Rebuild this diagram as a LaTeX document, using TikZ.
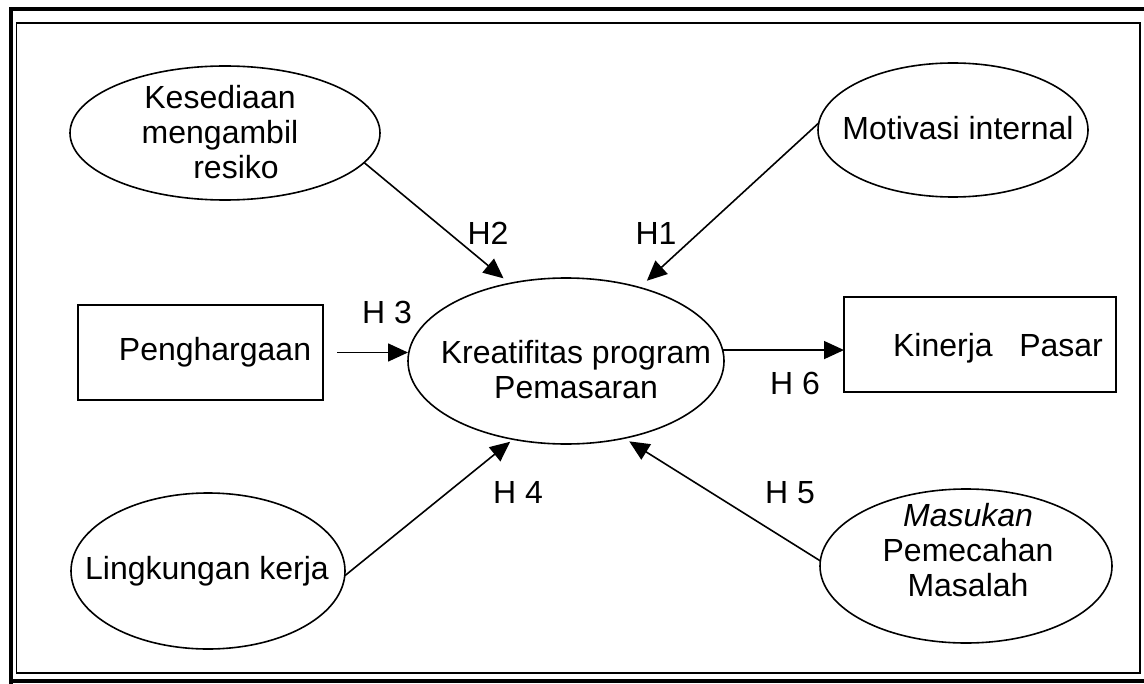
\documentclass[tikz,border=0pt]{standalone}
\usepackage{fontspec}
\setmainfont{Liberation Sans}
\usetikzlibrary{arrows.meta,shapes.geometric,positioning}

\begin{document}
\begin{tikzpicture}[x=0.5pt,y=-0.5pt,
		oval/.style={draw, ellipse, inner sep=0pt, outer sep=0pt, line width=0.8pt},
		kotak/.style={draw, rectangle, inner sep=0pt, outer sep=0pt, line width=0.8pt},
		teks/.style={align=center, inner sep=0pt, font=\fontsize{16}{17.5}\selectfont},
		panah/.style={-{Triangle[length=10pt,width=9pt]}, line width=0.8pt}]
		
			\useasboundingbox (0,0) rectangle (1144,684);
			\fill[white] (0,0) rectangle (1144,684);
			
			% bingkai
			\draw[line width=2pt] (11,684) -- (11,9.5) -- (1144,9.5);
			\draw[line width=2pt] (11,681) -- (1144,681);
			\draw[line width=0.8pt] (16.5,23) rectangle (1140,673);
			
			\node[oval, minimum width=155pt, minimum height=67pt] (resiko) at (225,133) {};
			\node[oval, minimum width=135pt, minimum height=67pt] (motivasi) at (953,130) {};
			\node[oval, minimum width=158pt, minimum height=83pt] (kreatif) at (566,361) {};
			\node[oval, minimum width=137pt, minimum height=78pt] (lingkungan) at (208,571) {};
			\node[oval, minimum width=146pt, minimum height=77pt] (masukan) at (966,566) {};
			\node[kotak, minimum width=122.5pt, minimum height=47.5pt] (harga) at (200.5,352.5) {};
			\node[kotak, minimum width=136pt, minimum height=47.5pt] (kinerja) at (980,344.5) {};
			
			\node[teks] (resikoteks) at (220,132) {Kesediaan\\mengambil\\\hspace*{1em}resiko};
			\node[teks] (motivasiteks) at (958,128) {Motivasi internal};
			\node[teks] (kreatifteks) at (576,370) {Kreatifitas program\\Pemasaran};
			\node[teks] (lingkunganteks) at (207,571) {Lingkungan kerja};
			\node[teks] (masukanteks) at (968,550) {\textit{Masukan}\\Pemecahan\\Masalah};
			\node[teks] (hargateks) at (215,352) {Penghargaan};
			\node[teks] (kinerjateks) at (998,348) {Kinerja\ \ \ Pasar};
			
			\draw[panah, shorten >=4pt] (resiko.-12) -- (kreatif.126);
			\draw[panah, shorten >=5pt] (motivasi.177) -- (kreatif.45);
			\draw[panah, shorten <=7pt] (harga.east) -- (harga.east -| kreatif.west);
			\draw[panah] (kreatif.4) -- (kreatif.4 -| kinerja.west);
			\draw[panah, shorten >=2pt] (lingkungan.-2) -- (kreatif.236);
			\draw[panah, shorten >=3pt] (masukan.178) -- (kreatif.-53);
			
			\node[teks] (h1) at (656,233) {H1};
			\node[teks] (h2) at (488,233) {H2};
			\node[teks] (h3) at (387,312) {H 3};
			\node[teks] (h4) at (518,492) {H 4};
			\node[teks] (h5) at (790,493) {H 5};
			\node[teks] (h6) at (795,383) {H 6};
			
		\end{tikzpicture}
\end{document}
